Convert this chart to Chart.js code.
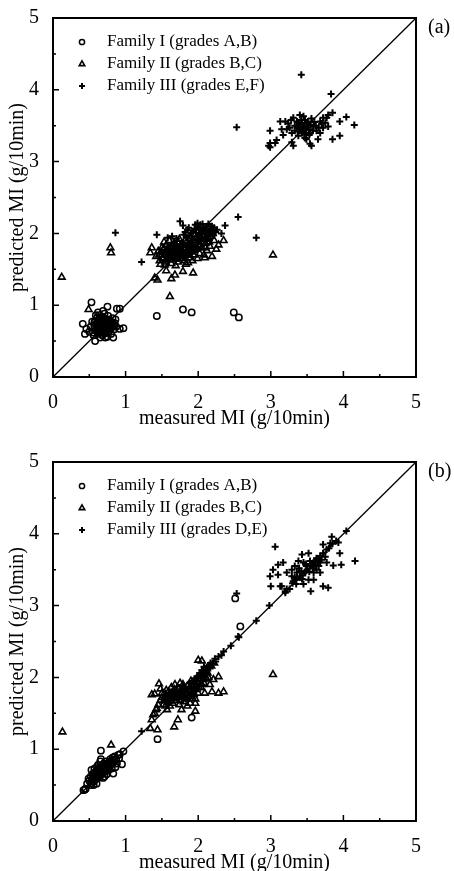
<!DOCTYPE html>
<html>
<head>
<meta charset="utf-8">
<script src="https://cdn.jsdelivr.net/npm/chart.js@4.4.0/dist/chart.umd.min.js"></script>
<style>
  html, body { margin: 0; padding: 0; background: #fff; overflow: hidden; }
  canvas { position: absolute; left: 0; }
  #chartA { top: 0; }
  #chartB { top: 444px; }
</style>
</head>
<body>
<canvas id="chartA" width="454" height="436"></canvas>
<canvas id="chartB" width="454" height="436"></canvas>
<script>
// tick values for both axes
const tickValues = [0, 1, 2, 3, 4, 5];
const minorStep = 0.5;
const parityLine = [[0, 0], [5, 5]];

const namesA = ['Family I (grades A,B)', 'Family II (grades B,C)', 'Family III (grades E,F)'];
const namesB = ['Family I (grades A,B)', 'Family II (grades B,C)', 'Family III (grades D,E)'];

// ---- panel (a) ----
const famIa = [
  [0.53,1.04],[0.75,0.98],[0.88,0.95],[0.92,0.95],[0.41,0.74],[0.44,0.60],[0.46,0.67],[0.58,0.50],
  [0.72,0.55],[0.83,0.55],[0.92,0.67],[0.97,0.68],[1.43,0.85],[1.79,0.94],[1.91,0.90],[2.49,0.90],[2.56,0.83],
  [0.55,0.62],[0.57,0.70],[0.58,0.78],[0.60,0.66],[0.60,0.74],[0.61,0.83],[0.62,0.60],[0.63,0.70],
  [0.63,0.77],[0.64,0.65],[0.64,0.86],[0.65,0.72],[0.66,0.62],[0.66,0.80],[0.67,0.68],[0.67,0.75],
  [0.68,0.58],[0.68,0.84],[0.69,0.71],[0.70,0.64],[0.70,0.78],[0.71,0.68],[0.71,0.88],[0.72,0.74],
  [0.72,0.61],[0.73,0.81],[0.74,0.66],[0.74,0.72],[0.75,0.77],[0.76,0.62],[0.76,0.85],[0.77,0.70],
  [0.78,0.66],[0.78,0.79],[0.79,0.74],[0.80,0.60],[0.81,0.70],[0.82,0.82],[0.84,0.66],[0.85,0.75],
  [0.52,0.70],[0.54,0.77],[0.56,0.58],[0.59,0.86],[0.62,0.90],[0.69,0.92],[0.65,0.55],[0.75,0.56],
  [0.87,0.70],[0.86,0.80],[0.50,0.63],[0.62,0.72],[0.66,0.70],[0.70,0.72],[0.68,0.66],[0.73,0.69],[0.64,0.79],
  [0.60,0.70],[0.61,0.77],[0.62,0.66],[0.63,0.73],[0.64,0.69],[0.65,0.76],[0.65,0.66],[0.66,0.74],
  [0.67,0.64],[0.67,0.71],[0.68,0.78],[0.68,0.70],[0.69,0.67],[0.69,0.76],[0.70,0.69],[0.70,0.75],
  [0.71,0.73],[0.71,0.80],[0.72,0.67],[0.72,0.70],[0.73,0.76],[0.73,0.64],[0.74,0.79],[0.75,0.71],
  [0.75,0.68],[0.76,0.74],[0.76,0.78],[0.77,0.66],[0.77,0.75],[0.78,0.71],[0.79,0.68],[0.80,0.76],
  [0.80,0.72],[0.66,0.83],[0.63,0.62],[0.58,0.65],[0.59,0.73],[0.57,0.76],[0.82,0.76],[0.83,0.71]
];
const famIIa = [
  [0.12,1.39],[0.79,1.80],[0.80,1.73],[0.49,0.94],[1.61,1.12],[3.03,1.70],[1.40,1.38],[1.44,1.35],
  [1.63,1.37],[1.68,1.42],[1.79,1.47],[1.93,1.45],[1.56,1.48],[1.36,1.80],[1.34,1.73],[2.35,1.90],
  [2.28,1.84],[2.19,1.68],[2.09,1.66],[1.86,1.59],[1.54,1.56],
  [1.42,1.68],[1.45,1.75],[1.47,1.62],[1.50,1.70],[1.50,1.80],[1.52,1.65],[1.54,1.74],[1.55,1.60],
  [1.56,1.84],[1.58,1.68],[1.58,1.77],[1.60,1.63],[1.61,1.72],[1.62,1.81],[1.63,1.58],[1.65,1.69],
  [1.66,1.76],[1.67,1.86],[1.68,1.64],[1.70,1.72],[1.71,1.80],[1.72,1.60],[1.73,1.68],[1.75,1.76],
  [1.76,1.84],[1.77,1.65],[1.78,1.72],[1.80,1.80],[1.81,1.62],[1.82,1.90],[1.84,1.70],[1.85,1.77],
  [1.86,1.85],[1.88,1.66],[1.89,1.93],[1.90,1.74],[1.92,1.82],[1.94,1.70],[1.95,1.88],[1.97,1.78],
  [1.98,1.95],[2.00,1.84],[2.02,1.72],[2.03,1.92],[2.05,1.80],[2.07,1.98],[2.10,1.86],[2.12,1.76],
  [2.14,1.94],[2.16,1.82],[2.18,2.02],[2.22,1.90],[2.25,1.78],[1.48,1.57],[1.53,1.88],[1.60,1.90],
  [1.69,1.55],[1.74,1.92],[1.83,1.57],[1.92,1.62],[1.99,1.65],[2.08,1.70],
  [1.46,1.70],[1.49,1.74],[1.51,1.66],[1.53,1.79],[1.55,1.70],[1.57,1.74],[1.59,1.81],[1.59,1.70],
  [1.61,1.67],[1.62,1.76],[1.64,1.73],[1.64,1.83],[1.66,1.68],[1.67,1.79],[1.69,1.74],[1.69,1.84],
  [1.71,1.66],[1.72,1.76],[1.74,1.70],[1.74,1.80],[1.76,1.68],[1.77,1.78],[1.79,1.74],[1.79,1.86],
  [1.81,1.70],[1.82,1.78],[1.84,1.88],[1.85,1.74],[1.87,1.81],[1.88,1.70],[1.90,1.86],[1.91,1.78],
  [1.93,1.90],[1.94,1.76],[1.96,1.84],[1.97,1.93],[1.99,1.80],[2.00,1.90],[2.02,1.82],[2.04,1.95],
  [2.06,1.88],[2.08,1.96],[2.10,1.80],[2.11,1.92],[2.13,1.99],[2.15,1.88],[2.17,1.96],[2.20,2.00],
  [1.72,1.88],[1.63,1.65]
];
const famIIIa = [
  [0.86,2.01],[1.22,1.60],[1.43,1.98],[2.55,2.23],[2.80,1.94],[1.75,2.17],[1.79,2.11],[2.37,2.11],
  [2.32,2.00],[2.53,3.48],
  [1.85,2.05],[1.90,2.00],[1.95,2.06],[2.00,2.09],[2.04,1.99],[2.08,2.04],[2.12,2.10],[1.98,1.96],
  [2.15,2.02],[2.20,1.97],[1.92,1.93],[2.02,1.90],[1.88,1.97],[2.06,2.13],[2.18,2.07],[2.22,2.08],
  [1.70,1.93],[1.64,1.96],[1.58,1.94],[1.67,1.88],[1.80,1.98],[2.10,1.95],[2.26,2.05],[1.96,2.12],
  [1.82,2.02],[1.87,2.08],[1.93,2.03],[1.97,2.01],[2.01,2.05],[2.03,2.12],[2.07,2.07],[2.11,2.04],
  [2.14,2.13],[2.17,2.00],[2.19,2.10],[2.24,2.02],[1.99,2.14],[1.84,1.95],[2.05,1.95],
  [3.42,4.21],[3.83,3.94],[4.15,3.51],[4.04,3.62],[3.95,3.56],[3.95,3.36],[3.85,3.31],[3.85,3.68],
  [3.79,3.65],[3.75,3.54],[3.65,3.31],[3.56,3.22],[3.54,3.25],[3.31,3.22],[3.29,3.27],[3.08,3.30],
  [3.06,3.26],[2.99,3.43],[2.99,3.20],[3.15,3.45],[3.17,3.37],[3.13,3.56],[3.20,3.56],[3.24,3.53],
  [3.31,3.61],[3.40,3.65],[3.45,3.63],[3.29,3.40],[3.36,3.49],[3.43,3.52],[3.49,3.54],[3.45,3.43],
  [3.52,3.45],[3.38,3.36],[3.47,3.33],[3.68,3.56],[3.72,3.47],[3.68,3.40],[3.79,3.49],[3.59,3.49],
  [3.54,3.40],[3.63,3.43],[3.26,3.47],[3.22,3.45],[3.49,3.31],[3.43,3.40],[3.33,3.43],[3.39,3.47],
  [3.47,3.58],[3.72,3.61],[3.77,3.61],[2.97,3.22],[2.99,3.26],[3.40,3.50],[3.50,3.48],[3.56,3.60],
  [3.36,3.56],[3.44,3.46],[3.53,3.37],[3.60,3.55],
  [3.38,3.54],[3.41,3.44],[3.46,3.50],[3.48,3.40],[3.51,3.56],[3.42,3.58],[3.37,3.42],[3.55,3.51],
  [3.58,3.43],[3.62,3.50],[3.46,3.38],[3.33,3.50],[3.28,3.58],[3.66,3.47],[3.70,3.53]
];

// ---- panel (b) ----
const famIb = [
  [0.66,0.98],[0.65,0.83],[0.97,0.97],[0.95,0.79],[0.92,0.93],[0.53,0.71],[0.49,0.59],[0.52,0.50],
  [0.42,0.43],[0.44,0.44],[0.83,0.66],[0.76,0.77],[0.60,0.52],[0.56,0.50],[1.44,1.14],[1.91,1.44],
  [2.51,3.10],[2.58,2.71],
  [0.50,0.56],[0.52,0.62],[0.54,0.58],[0.55,0.66],[0.56,0.61],[0.58,0.68],[0.58,0.57],[0.60,0.64],
  [0.61,0.71],[0.62,0.60],[0.63,0.67],[0.64,0.74],[0.65,0.63],[0.66,0.70],[0.67,0.77],[0.68,0.66],
  [0.69,0.73],[0.70,0.80],[0.71,0.69],[0.72,0.76],[0.73,0.83],[0.74,0.72],[0.75,0.79],[0.76,0.70],
  [0.77,0.82],[0.78,0.76],[0.79,0.86],[0.80,0.79],[0.81,0.73],[0.82,0.88],[0.84,0.82],[0.85,0.90],
  [0.87,0.86],[0.88,0.80],[0.90,0.92],[0.91,0.87],[0.57,0.73],[0.62,0.78],[0.69,0.60],[0.74,0.65],
  [0.53,0.53],[0.47,0.52],[0.86,0.75],[0.66,0.86],[0.60,0.75],[0.71,0.62],
  [0.55,0.60],[0.57,0.64],[0.59,0.62],[0.60,0.68],[0.62,0.65],[0.63,0.71],[0.64,0.67],[0.66,0.66],
  [0.67,0.72],[0.68,0.70],[0.69,0.77],[0.70,0.74],[0.71,0.72],[0.72,0.79],[0.73,0.75],[0.74,0.77],
  [0.75,0.74],[0.76,0.80],[0.77,0.77],[0.78,0.81],[0.79,0.78],[0.80,0.83],[0.82,0.80],[0.83,0.85],
  [0.85,0.84],[0.59,0.66],[0.65,0.69],[0.70,0.71],[0.61,0.61],[0.56,0.55],[0.45,0.45]
];
const famIIb = [
  [0.13,1.24],[0.80,1.06],[3.03,2.04],[1.34,1.29],[1.44,1.27],[1.67,1.31],[1.72,1.41],[1.96,1.53],
  [1.36,1.41],[1.40,1.50],[1.43,1.57],[1.40,1.77],[1.36,1.76],[1.46,1.91],[2.00,2.24],[2.05,2.23],
  [2.14,2.00],[2.28,2.01],[2.21,1.97],[2.16,1.90],[2.19,1.80],[2.28,1.78],[2.35,1.80],[2.09,1.78],
  [1.96,1.64],[1.68,1.90],[1.79,1.90],[1.57,1.55],[1.77,1.55],[1.61,1.60],
  [1.48,1.68],[1.50,1.78],[1.52,1.62],[1.54,1.72],[1.56,1.82],[1.58,1.66],[1.60,1.76],[1.62,1.70],
  [1.63,1.86],[1.65,1.64],[1.66,1.74],[1.68,1.80],[1.70,1.68],[1.71,1.76],[1.73,1.84],[1.74,1.62],
  [1.76,1.72],[1.78,1.79],[1.80,1.66],[1.81,1.74],[1.83,1.82],[1.84,1.70],[1.86,1.77],[1.88,1.86],
  [1.89,1.64],[1.91,1.73],[1.93,1.80],[1.95,1.90],[1.96,1.70],[1.98,1.84],[2.00,1.78],[2.02,1.94],
  [2.04,1.86],[2.06,2.02],[2.08,1.92],[2.10,2.08],[2.12,2.12],[2.15,2.15],[2.18,2.16],[2.05,2.06],
  [1.90,1.95],[1.75,1.92],[1.55,1.60],[1.85,1.60],[2.22,2.20],
  [1.50,1.72],[1.53,1.68],[1.55,1.76],[1.57,1.70],[1.59,1.80],[1.61,1.74],[1.63,1.67],[1.64,1.78],
  [1.66,1.71],[1.67,1.83],[1.69,1.76],[1.70,1.82],[1.72,1.72],[1.74,1.78],[1.75,1.68],[1.77,1.83],
  [1.79,1.76],[1.80,1.86],[1.82,1.72],[1.84,1.79],[1.85,1.88],[1.87,1.74],[1.88,1.82],[1.90,1.78],
  [1.92,1.87],[1.94,1.76],[1.95,1.83],[1.97,1.88],[1.99,1.92],[2.01,1.86],[2.03,1.98],[2.05,1.90],
  [2.07,1.97],[2.09,2.03],[2.11,1.98],[2.13,2.06],[1.45,1.62],[1.42,1.55],[1.38,1.48],[1.48,1.84]
];
const famIIIb = [
  [1.22,1.25],[2.23,2.26],[2.35,2.36],[2.55,2.57],[2.56,2.56],[2.80,2.79],[2.98,3.00],[3.20,3.20],
  [3.35,3.36],[3.60,3.60],[3.72,3.73],[3.90,3.90],[4.04,4.04],[2.53,3.17],[2.45,2.44],
  [2.00,2.02],[2.05,2.10],[2.10,2.12],[2.15,2.17],[2.20,2.19],[1.95,1.98],[1.88,1.92],[2.12,2.05],
  [1.78,1.84],[2.08,2.15],
  [2.02,2.06],[2.06,2.04],[2.09,2.10],[2.13,2.11],[2.17,2.20],[2.24,2.22],[2.28,2.29],[2.32,2.31],
  [1.98,2.00],[1.92,1.95],
  [3.06,3.82],[3.84,3.96],[3.72,3.85],[3.95,3.73],[4.16,3.62],[3.97,3.57],[3.86,3.56],[3.93,3.88],
  [3.79,3.25],[3.72,3.27],[3.55,3.20],[3.45,3.30],[3.31,3.34],[3.15,3.27],[3.00,3.27],[2.99,3.41],
  [3.03,3.50],[3.10,3.57],[3.17,3.60],[3.22,3.46],[3.29,3.50],[3.33,3.55],[3.43,3.71],[3.52,3.73],
  [3.54,3.62],[3.63,3.66],[3.68,3.60],[3.63,3.50],[3.75,3.68],[3.77,3.60],[3.36,3.46],[3.40,3.39],
  [3.47,3.46],[3.49,3.55],[3.59,3.46],[3.68,3.46],[3.45,3.60],[3.38,3.62],[3.29,3.41],[3.77,3.78],
  [3.82,3.87],[3.20,3.18],[3.22,3.23],[3.52,3.36],[3.59,3.36],[3.13,3.27],[3.10,3.43],[3.26,3.23],
  [3.36,3.39],[3.50,3.50],[3.57,3.55],[3.65,3.62],[3.42,3.48],[3.33,3.40],
  [3.30,3.31],[3.40,3.41],[3.48,3.48],[3.55,3.56],[3.62,3.63],[3.68,3.69],[3.80,3.80],[3.85,3.86],
  [3.39,3.52],[3.44,3.42],[3.48,3.58],[3.53,3.47],[3.58,3.52],[3.61,3.57],[3.66,3.55],[3.70,3.64],
  [3.35,3.30],[3.43,3.37]
];

const serif = '"Liberation Serif", "Times New Roman", serif';
Chart.defaults.font.family = serif;
Chart.defaults.color = '#000';

const markers = [
  { pointStyle: 'circle', radius: 3.2, borderWidth: 1.5, legendRadius: 2.6 },
  { pointStyle: 'triangle', radius: 3.9, borderWidth: 1.6, legendRadius: 3.2 },
  { pointStyle: 'cross', radius: 3.5, borderWidth: 2, legendRadius: 3 }
];

function toPts(arr) {
  return arr.map(p => ({ x: p[0], y: p[1] }));
}

// box, inward ticks, panel tag and legend
const framePlugin = {
  id: 'frame',
  afterDraw(chart, args, opts) {
    const ctx = chart.ctx;
    const a = chart.chartArea;
    const sx = chart.scales.x, sy = chart.scales.y;
    ctx.save();
    ctx.strokeStyle = '#000';
    ctx.lineWidth = 2;
    ctx.strokeRect(a.left, a.top, a.right - a.left, a.bottom - a.top);
    ctx.lineWidth = 1.5;
    ctx.beginPath();
    for (let v = minorStep; v < 5; v += minorStep) {
      const len = Number.isInteger(v) ? 6 : 3;
      const px = sx.getPixelForValue(v), py = sy.getPixelForValue(v);
      ctx.moveTo(px, a.bottom); ctx.lineTo(px, a.bottom - len);
      ctx.moveTo(a.left, py); ctx.lineTo(a.left + len, py);
    }
    ctx.stroke();

    ctx.fillStyle = '#000';
    ctx.textBaseline = 'middle';
    ctx.textAlign = 'left';
    ctx.font = '20px ' + serif;
    ctx.fillText(opts.tag, a.right + 12, a.top + 10);

    ctx.font = '17px ' + serif;
    const rows = [a.top + 24, a.top + 46, a.top + 68];
    chart.data.datasets.slice(0, 3).forEach((ds, i) => {
      const m = markers[i];
      ctx.strokeStyle = '#000';
      ctx.fillStyle = 'rgba(0,0,0,0)';
      ctx.lineWidth = m.borderWidth;
      Chart.helpers.drawPoint(ctx, { pointStyle: m.pointStyle, radius: m.legendRadius, rotation: 0, borderWidth: m.borderWidth }, 82, rows[i]);
      ctx.fillStyle = '#000';
      ctx.fillText(ds.label, 107, rows[i]);
    });
    ctx.restore();
  }
};

function makeChart(id, tag, names, f1, f2, f3) {
  const sets = [f1, f2, f3].map((arr, i) => ({
    label: names[i],
    data: toPts(arr),
    pointStyle: markers[i].pointStyle,
    pointRadius: markers[i].radius,
    pointBorderWidth: markers[i].borderWidth,
    pointBorderColor: '#000',
    pointBackgroundColor: 'rgba(0,0,0,0)',
    showLine: false
  }));
  sets.push({
    label: 'parity',
    data: toPts(parityLine),
    showLine: true,
    borderColor: '#000',
    borderWidth: 1.3,
    pointRadius: 0
  });
  new Chart(document.getElementById(id), {
    type: 'scatter',
    data: { datasets: sets },
    plugins: [framePlugin],
    options: {
      responsive: false,
      animation: false,
      layout: { padding: { left: 0, right: 38, top: 14, bottom: 0 } },
      plugins: {
        legend: { display: false },
        tooltip: { enabled: false },
        frame: { tag: tag }
      },
      scales: {
        x: {
          type: 'linear',
          min: 0, max: 5,
          grid: { display: false },
          border: { display: false },
          afterBuildTicks: s => { s.ticks = tickValues.map(v => ({ value: v })); },
          afterFit: s => { s.height = 59; },
          ticks: { padding: 6, font: { size: 20 }, callback: v => v },
          title: { display: true, text: 'measured MI (g/10min)', font: { size: 20 }, padding: { top: 0, bottom: 5 } }
        },
        y: {
          type: 'linear',
          min: 0, max: 5,
          grid: { display: false },
          border: { display: false },
          afterBuildTicks: s => { s.ticks = tickValues.map(v => ({ value: v })); },
          afterFit: s => { s.width = 53; },
          ticks: { padding: 6, font: { size: 20 }, callback: v => v },
          title: { display: true, text: 'predicted MI (g/10min)', font: { size: 20 }, padding: { top: 6, bottom: 0 } }
        }
      }
    }
  });
}

makeChart('chartA', '(a)', namesA, famIa, famIIa, famIIIa);
makeChart('chartB', '(b)', namesB, famIb, famIIb, famIIIb);
</script>
</body>
</html>
